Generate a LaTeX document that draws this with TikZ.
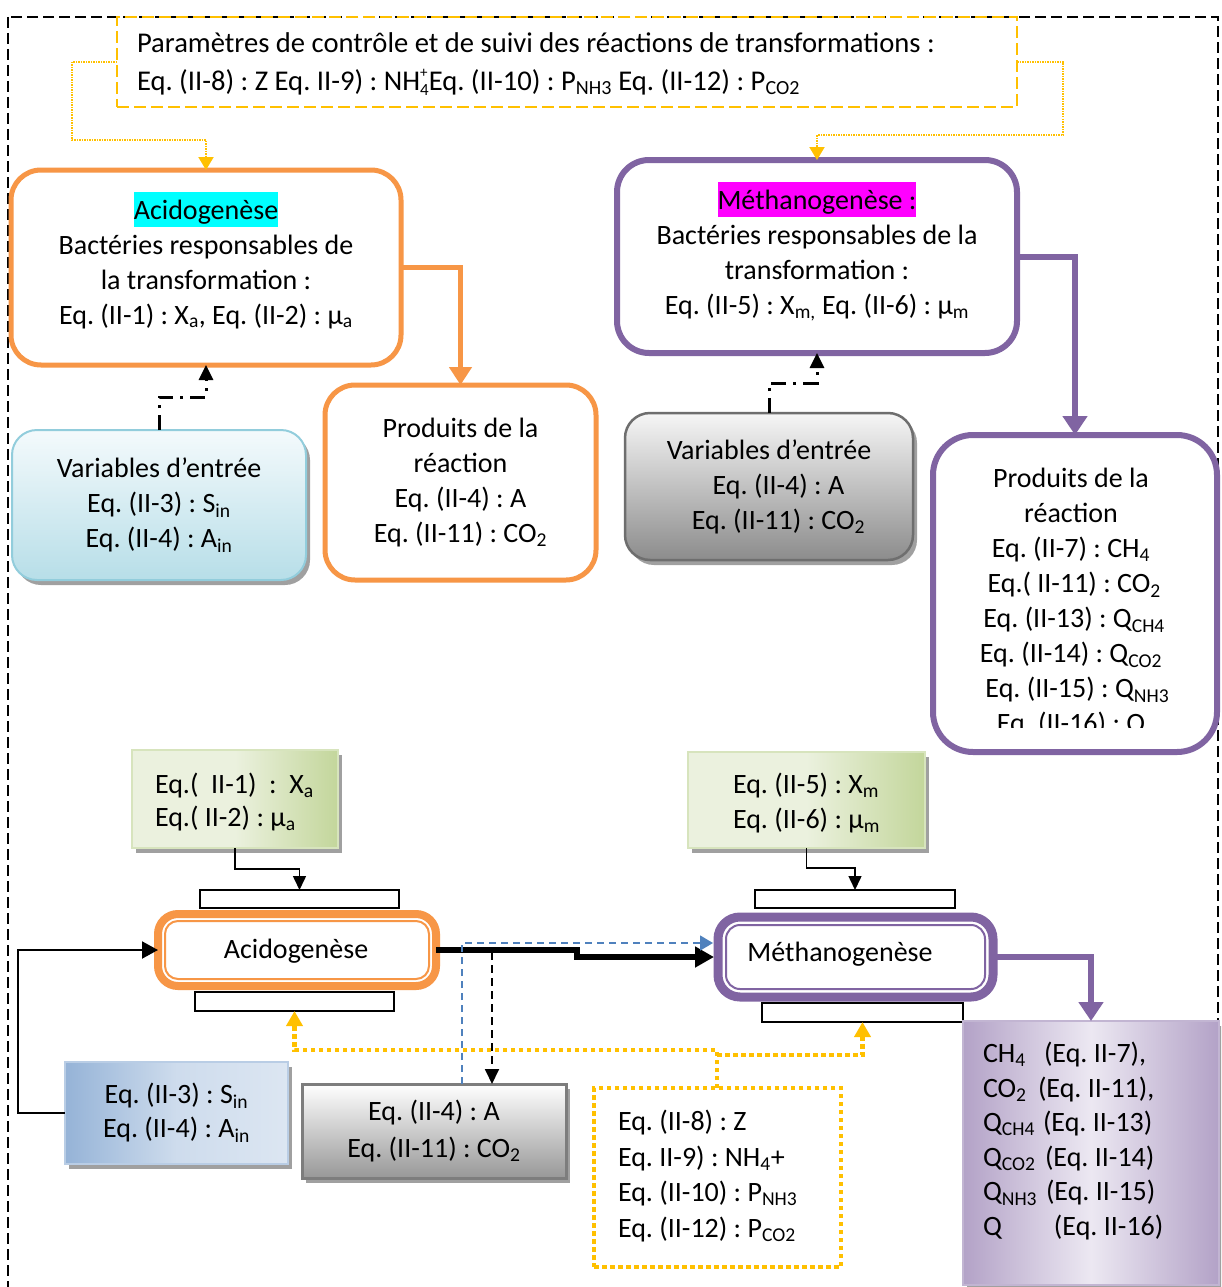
\documentclass[tikz,border=0pt]{standalone}
\usepackage{fontspec}
\setmainfont{Carlito}
\usetikzlibrary{arrows.meta,calc,shadows}
\definecolor{orA}{HTML}{F79646}
\definecolor{puM}{HTML}{8064A2}
\definecolor{yeC}{HTML}{FFC000}
\definecolor{blD}{HTML}{4F81BD}
\definecolor{hlCyan}{HTML}{00FFFF}
\definecolor{hlMag}{HTML}{FF00FF}
\definecolor{vbBorder}{HTML}{92CDDC}
\definecolor{vbTop}{HTML}{F4FAFC}
\definecolor{vbBot}{HTML}{B7DEE8}
\definecolor{grBorder}{HTML}{6E6E6E}
\definecolor{grTop}{HTML}{F6F6F6}
\definecolor{grBot}{HTML}{8C8C8C}
\definecolor{gnDark}{HTML}{C3D69B}
\definecolor{gnLight}{HTML}{EBF1DE}
\definecolor{gnBorder}{HTML}{D7E4BD}
\definecolor{buDark}{HTML}{95B3D7}
\definecolor{buLight}{HTML}{DCE6F2}
\definecolor{buBorder}{HTML}{B9CDE5}
\definecolor{ppDark}{HTML}{B3A2C7}
\definecolor{ppLight}{HTML}{ECE8F2}
\definecolor{shd}{HTML}{A0A0A0}
\newcommand{\sbs}[1]{\textsubscript{#1}}
\newcommand{\hlc}[2]{{\setlength{\fboxsep}{0pt}\colorbox{#1}{\rule[-8pt]{0pt}{35pt}#2}}}
\tikzset{
  every node/.style={font=\fontsize{28}{35}\selectfont, inner sep=0pt, outer sep=0pt},
  frame/.style={draw=black, line width=1.5pt, dash pattern=on 11pt off 5pt},
  obox/.style={draw=orA, line width=5pt, rounded corners=30pt, fill=white, align=center},
  pbox/.style={draw=puM, line width=6pt, rounded corners=32pt, fill=white, align=center},
  wshadow/.style={general shadow={fill=shd, shadow xshift=4pt, shadow yshift=-5pt}},
  smallr/.style={draw=black, line width=1.8pt, fill=white},
  ocon/.style={draw=orA, line width=5pt, -{Triangle[width=22pt,length=18pt]}},
  pcon/.style={draw=puM, line width=6pt, -{Triangle[width=24pt,length=19pt]}},
  ddcon/.style={draw=black, line width=3pt, dash pattern=on 15pt off 7pt on 3pt off 7pt, -{Triangle[width=14pt,length=15pt]}},
  ydotthin/.style={draw=yeC, line width=2pt, dash pattern=on 1.5pt off 1pt, -{Triangle[width=15pt,length=13pt]}},
  ydotthick/.style={draw=yeC, line width=4.5pt, dash pattern=on 4.5pt off 3.5pt, -{Triangle[width=16pt,length=15pt]}},
  thinarr/.style={draw=black, line width=1.5pt, -{Triangle[width=13pt,length=14pt]}},
  leftarr/.style={draw=black, line width=2pt, -{Triangle[width=17pt,length=16pt]}},
  thickarr/.style={draw=black, line width=6pt, shorten >=4pt, -{Triangle[width=20pt,length=19pt]}},
  bluearr/.style={draw=blD, line width=1.5pt, shorten >=5pt, dash pattern=on 7pt off 5pt, -{Triangle[width=15pt,length=13pt]}},
  bdarr/.style={draw=black, line width=1.8pt, dash pattern=on 8pt off 5pt, -{Triangle[width=14pt,length=15pt]}},
}
\begin{document}
\frenchspacing
\begin{tikzpicture}[x=1pt,y=-1pt]
\useasboundingbox (0,0) rectangle (1221,1287);
\clip (0,0) rectangle (1221,1287);
\fill[white] (0,0) rectangle (1221,1287);
\draw[frame] (8,17) rectangle (1218,1310);

% ---------- top part ----------
\node[draw=yeC, line width=2pt, dash pattern=on 12pt off 5pt, minimum width=900, minimum height=90] (topbox) at (567,62) {};
\node[anchor=west, align=left, font=\fontsize{28.6}{38}\selectfont] (toptxt) at (137,64)
  {Paramètres de contrôle et de suivi des réactions de transformations :\\
   Eq. (II-8) : Z Eq. II-9) : NH\rlap{\raisebox{13pt}{\fontsize{15}{15}\selectfont +}}\raisebox{-5pt}{\fontsize{17}{17}\selectfont 4}Eq. (II-10) : P\sbs{NH3} Eq. (II-12) : P\sbs{CO2}};

\node[obox, minimum width=390, minimum height=195] (acidoTop) at (206,267.5) {};
\node[align=center] (acidoTopTxt) at (206,260.5)
  {\hlc{hlCyan}{Acidogenèse}\\ Bactéries responsables de\\ la transformation :\\ Eq. (II-1) : X\sbs{a}, Eq. (II-2) : µ\sbs{a}};
\node[obox, minimum width=271, minimum height=195] (prodA) at (460.5,482.5)
  {Produits de la\\ réaction\\ Eq. (II-4) : A\\ Eq. (II-11) : CO\sbs{2}};
\node[draw=vbBorder, line width=2pt, rounded corners=25pt, top color=vbTop, bottom color=vbBot, wshadow, align=center, minimum width=294, minimum height=150] (varA) at (159,505)
  {Variables d’entrée\\ Eq. (II-3) : S\sbs{in}\\ Eq. (II-4) : A\sbs{in}};

\node[pbox, minimum width=400, minimum height=193] (methTop) at (817,256.5) {};
\node[align=center] (methTopTxt) at (817,251.5)
  {\hlc{hlMag}{Méthanogenèse :}\\ Bactéries responsables de la\\ transformation :\\ Eq. (II-5) : X\sbs{m,} Eq. (II-6) : µ\sbs{m}};
\node[draw=grBorder, line width=2.5pt, rounded corners=25pt, top color=grTop, bottom color=grBot, wshadow, align=center, minimum width=288, minimum height=147] (varM) at (769,486.5)
  {Variables d’entrée\\ \ \ \ Eq. (II-4) : A\\ \ \ \ Eq. (II-11) : CO\sbs{2}};
\node[pbox, rounded corners=40pt, minimum width=284, minimum height=317] (prodM) at (1075,593.5) {};
\begin{scope}
  \clip (936,440) rectangle (1214,727);
  \node[align=center] (prodMtxt) at (1071,603)
    {Produits de la\\ réaction\\ Eq. (II-7) : CH\sbs{4}\\ \ Eq.( II-11) : CO\sbs{2}\\ \ Eq. (II-13) : Q\sbs{CH4}\\ Eq. (II-14) : Q\sbs{CO2}\hspace{22pt}\\ \ \ Eq. (II-15) : Q\sbs{NH3}\\ Eq. (II-16) : Q};
\end{scope}

\coordinate (c1) at (72,140);
\coordinate (c2) at (1063,135);
\draw[ydotthin] (topbox.west) -| (c1) -| (acidoTop.north);
\draw[ydotthin] (topbox.east) -| (c2) -| (methTop.north);
\draw[ocon] (acidoTop.east) -| (prodA.north);
\draw[pcon] (methTop.east) -| (prodM.north);
\coordinate (c3) at (159,397);
\coordinate (c4) at (769,383);
\draw[ddcon] (varA.north) -- (c3) -| (acidoTop.south);
\draw[ddcon] (varM.north) -- (c4) -| (methTop.south);

% ---------- bottom part ----------
\node[draw=gnBorder, line width=2pt, left color=gnLight, right color=gnDark, middle color=gnLight, wshadow, minimum width=206, minimum height=98] (green1) at (235,799) {};
\node[anchor=west, align=left, font=\fontsize{28}{33}\selectfont] (green1txt) at (155,802)
  {Eq.(\ \ II-1)\ \ :\ \ X\sbs{a}\\ Eq.( II-2) : µ\sbs{a}};
\node[draw=gnBorder, line width=2pt, left color=gnLight, right color=gnDark, middle color=gnLight, wshadow, minimum width=237, minimum height=96] (green2) at (806.5,800) {};
\node[anchor=west, align=left, font=\fontsize{28}{35}\selectfont] (green2txt) at (733,803)
  {Eq. (II-5) : X\sbs{m}\\ Eq. (II-6) : µ\sbs{m}};

\node[smallr, minimum width=199, minimum height=18] (smallA1) at (299.5,899) {};
\node[draw=orA, line width=8pt, rounded corners=20pt, fill=white, minimum width=278, minimum height=72] (acB) at (297,950) {};
\draw[orA, line width=2pt, rounded corners=13pt] ($(acB.south west)+(7pt,7pt)$) rectangle ($(acB.north east)+(-7pt,-7pt)$);
\node (acBtxt) at (296,951) {Acidogenèse};
\node[smallr, minimum width=199, minimum height=19] (smallA2) at (294.5,1001.5) {};

\node[smallr, minimum width=200, minimum height=18] (smallM1) at (855,899) {};
\node[draw=puM, line width=9pt, rounded corners=22pt, fill=white, minimum width=275, minimum height=80] (methB) at (855.5,957) {};
\draw[puM, line width=2pt, rounded corners=14pt] ($(methB.south west)+(8pt,8pt)$) rectangle ($(methB.north east)+(-8pt,-8pt)$);
\node (methBtxt) at (840,954) {Méthanogenèse};
\node[smallr, minimum width=201, minimum height=19] (smallM2) at (862.5,1012.5) {};

\node[draw=buBorder, line width=2pt, left color=buDark, right color=buLight, middle color=buLight!80!buDark, wshadow, align=center, font=\fontsize{28}{34}\selectfont, minimum width=223, minimum height=102] (blueB) at (176.5,1113)
  {Eq. (II-3) : S\sbs{in}\\ Eq. (II-4) : A\sbs{in}};
\node[draw=grBorder!90, line width=3pt, top color=white, bottom color=grBot!90, wshadow, align=center, font=\fontsize{28}{37}\selectfont, minimum width=264, minimum height=94] (grayB) at (434,1131)
  {Eq. (II-4) : A\\ Eq. (II-11) : CO\sbs{2}};
\node[draw=yeC, line width=4.5pt, dash pattern=on 4.5pt off 3.5pt, fill=white, minimum width=247, minimum height=179] (yBox) at (717.5,1177.5) {};
\node[anchor=west, align=left, font=\fontsize{28}{35.5}\selectfont] (yBoxtxt) at (618,1176)
  {Eq. (II-8) : Z\\ Eq. II-9) : NH\sbs{4}+\\ Eq. (II-10) : P\sbs{NH3}\\ Eq. (II-12) : P\sbs{CO2}};
\node[draw=ppDark!80, line width=1.5pt, left color=ppDark, right color=ppDark, middle color=ppLight, wshadow, minimum width=256, minimum height=264] (purpB) at (1091,1153) {};
\node[anchor=west, align=left, font=\fontsize{28}{34.6}\selectfont] (purpTxt) at (983,1141)
  {\makebox[61pt][l]{CH\sbs{4}}(Eq. II-7),\\
   \makebox[55pt][l]{CO\sbs{2}}(Eq. II-11),\\
   \makebox[60pt][l]{Q\sbs{CH4}}(Eq. II-13)\\
   \makebox[62pt][l]{Q\sbs{CO2}}(Eq. II-14)\\
   \makebox[63pt][l]{Q\sbs{NH3}}(Eq. II-15)\\
   \makebox[71pt][l]{Q}(Eq. II-16)};

% bottom connectors
\coordinate (c5) at (235,869);
\coordinate (c6) at (806.5,868);
\draw[thinarr] (green1.south) -- (c5) -| (smallA1.north);
\draw[thinarr] (green2.south) -- (c6) -| (smallM1.north);
\coordinate (c11) at (18,950);
\draw[leftarr] (blueB.west) -| (c11) -- (acB.west);
\coordinate (c7) at (577,950);
\draw[thickarr] (acB.east) -- (c7) |- (methB.west);
\coordinate (c8) at (462,943);
\draw[bluearr] (grayB.north -| c8) -- (c8) -- (methB.west |- c8);
\coordinate (c10) at (492,952);
\draw[bdarr] (c10) -- (grayB.north -| c10);
\coordinate (c12) at (717,1050);
\coordinate (c13) at (717,1055);
\draw[ydotthick] (yBox.north -| c13) -- (c12) -| (smallA2.south);
\draw[ydotthick] (c13) -| (smallM2.south);
\draw[pcon] (methB.east) -| (purpB.north);
\end{tikzpicture}
\end{document}
